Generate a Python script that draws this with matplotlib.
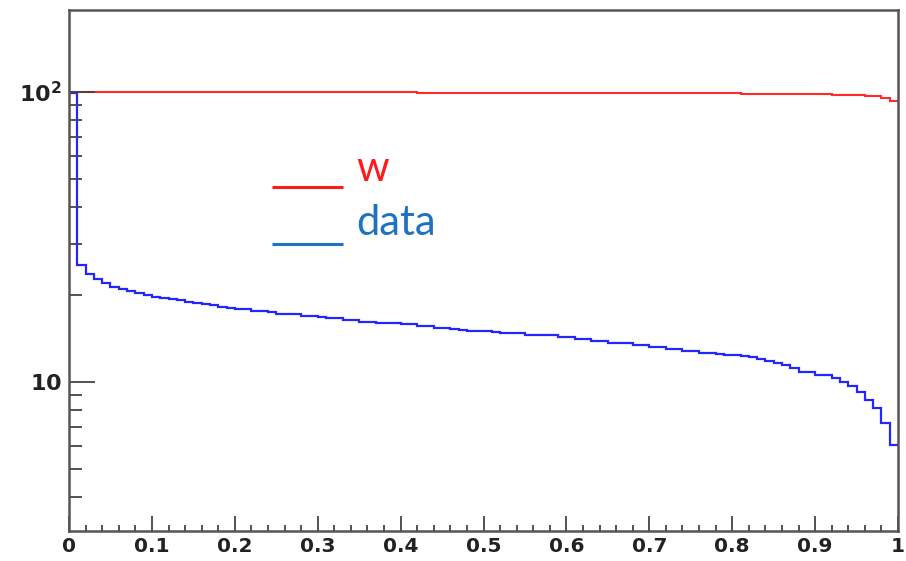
import numpy as np
import matplotlib
matplotlib.use("Agg")
import matplotlib.pyplot as plt
from matplotlib.ticker import FixedLocator, FixedFormatter, NullFormatter, MultipleLocator

plt.rcParams["mathtext.fontset"] = "dejavusans"

# 100 equal-width bins on [0, 1]
bin_edges = np.linspace(0.0, 1.0, 101)

data_counts = [
    99.0, 25.3, 23.6, 22.7, 21.9, 21.3, 20.9, 20.6, 20.3, 19.95,
    19.6, 19.45, 19.3, 19.1, 18.9, 18.7, 18.5, 18.4, 18.2, 18.0,
    17.9, 17.8, 17.6, 17.5, 17.4, 17.2, 17.2, 17.2, 16.9, 16.9,
    16.75, 16.6, 16.6, 16.4, 16.4, 16.1, 16.1, 15.97, 15.97, 15.97,
    15.85, 15.85, 15.6, 15.6, 15.35, 15.35, 15.2, 15.1, 15.0, 15.0,
    15.0, 14.9, 14.75, 14.75, 14.75, 14.5, 14.5, 14.5, 14.5, 14.3,
    14.3, 14.07, 14.07, 13.85, 13.85, 13.6, 13.6, 13.6, 13.4, 13.4,
    13.2, 13.2, 13.0, 13.0, 12.8, 12.8, 12.6, 12.55, 12.5, 12.4,
    12.35, 12.25, 12.15, 12.0, 11.8, 11.6, 11.4, 11.2, 10.8, 10.8,
    10.6, 10.6, 10.3, 10.0, 9.7, 9.24, 8.67, 8.13, 7.22, 6.07,
]

w_counts = (
    [100.3] * 42 + [99.5] * 39 + [98.8] * 11 + [98.0] * 4
    + [97.3] * 2 + [95.5, 93.5]
)

y_major = [10, 100]
y_major_labels = [r"$\mathbf{10}$", r"$\mathbf{10^{2}}$"]
y_minor = [4, 5, 6, 7, 8, 9, 20, 30, 40, 50, 60, 70, 80, 90]
x_major = [0.0, 0.1, 0.2, 0.3, 0.4, 0.5, 0.6, 0.7, 0.8, 0.9, 1.0]
x_major_labels = ["0", "0.1", "0.2", "0.3", "0.4", "0.5", "0.6", "0.7", "0.8", "0.9", "1"]

legend_entries = [("w", "#ff1a1a"), ("data", "#1f72c2")]

fig = plt.figure(figsize=(9.06, 5.61), dpi=100)
ax = fig.add_axes([0.0762, 0.0535, 0.9150, 0.9287])

ax.stairs(w_counts, bin_edges, baseline=None, color="#ff2a2a", linewidth=1.5)
ax.stairs(data_counts, bin_edges, baseline=None, color="#2525ff", linewidth=1.6)

ax.set_yscale("log")
ax.set_xlim(0.0, 1.0)
ax.set_ylim(3.06, 192)

ax.yaxis.set_major_locator(FixedLocator(y_major))
ax.yaxis.set_major_formatter(FixedFormatter(y_major_labels))
ax.yaxis.set_minor_locator(FixedLocator(y_minor))
ax.yaxis.set_minor_formatter(NullFormatter())

ax.xaxis.set_major_locator(FixedLocator(x_major))
ax.xaxis.set_major_formatter(FixedFormatter(x_major_labels))
ax.xaxis.set_minor_locator(MultipleLocator(0.02))

tick_color = "#444444"
ax.tick_params(axis="x", which="major", direction="in", length=10.5, width=1.3,
               color=tick_color, pad=4, top=False)
ax.tick_params(axis="x", which="minor", direction="in", length=4, width=1.3,
               color=tick_color, top=False)
ax.tick_params(axis="y", which="major", direction="in", length=19, width=1.3,
               color=tick_color, pad=5, right=False)
ax.tick_params(axis="y", which="minor", direction="in", length=9.5, width=1.3,
               color=tick_color, right=False)

for lab in ax.get_xticklabels():
    lab.set_fontfamily("DejaVu Sans")
    lab.set_fontweight("bold")
    lab.set_fontsize(14.5)
    lab.set_color("#222222")
for lab in ax.get_yticklabels():
    lab.set_fontsize(16)
    lab.set_color("#222222")

for side, sp in ax.spines.items():
    sp.set_color("#555555")
    sp.set_linewidth(1.8)

# Hand-made legend: coloured bar followed by the series name
legend_line_y = [0.660, 0.551]
legend_text_y = [0.672, 0.568]
for (name, color), ly, ty in zip(legend_entries, legend_line_y, legend_text_y):
    ax.plot([0.245, 0.3305], [ly, ly], transform=ax.transAxes, color=color,
            linewidth=2.2, solid_capstyle="butt", clip_on=False)
    ax.text(0.347, ty, name, transform=ax.transAxes, color=color,
            fontsize=30, fontfamily="Lato", va="baseline", ha="left")

fig.savefig("out.png", dpi=100, facecolor="white")
